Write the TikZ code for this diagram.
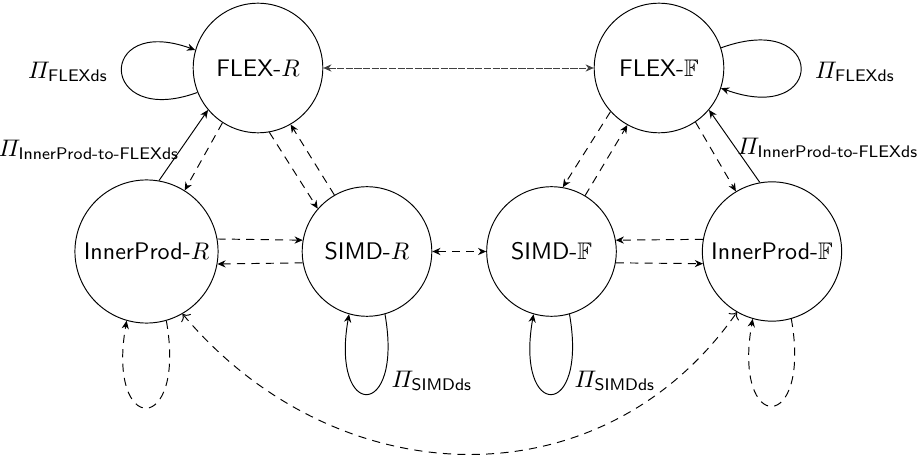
\documentclass[tikz,border=0pt]{standalone}
\usepackage{amsmath,amssymb}
\usetikzlibrary{arrows.meta}
\begin{document}
\begin{tikzpicture}[x=0.4167pt,y=0.4167pt,
  state/.style={circle,draw,minimum size=54pt,font=\sffamily,inner sep=3pt},
  lab/.style={inner sep=0pt},
  dsh/.style={dash pattern=on 3.4pt off 2.6pt},
  arr/.style={-{Stealth[length=3.4pt,width=3pt]}},
  darr/.style={arr,dsh},
  >=To]
\useasboundingbox (0,0) rectangle (923,-459);
\node[state] (flexr) at (258,-68) {FLEX-$R$};
\node[state] (flexf) at (659,-68) {FLEX-$\mathbb{F}$};
\node[state] (innr) at (146.5,-251.5) {InnerProd-$R$};
\node[state] (simdr) at (367,-251.5) {SIMD-$R$};
\node[state] (simdf) at (551.5,-251.5) {SIMD-$\mathbb{F}$};
\node[state] (innf) at (772,-251.5) {InnerProd-$\mathbb{F}$};

\node[lab] (l1) at (68,-72) {$\varPi_{\textsf{FLEXds}}$};
\node[lab] (l2) at (855,-72) {$\varPi_{\textsf{FLEXds}}$};
\node[lab] (l3) at (89,-150) {$\varPi_{\textsf{InnerProd-to-FLEXds}}$};
\node[lab] (l4) at (828,-148) {$\varPi_{\textsf{InnerProd-to-FLEXds}}$};
\node[lab] (l5) at (432,-381) {$\varPi_{\textsf{SIMDds}}$};
\node[lab] (l6) at (615,-381) {$\varPi_{\textsf{SIMDds}}$};

% self loops
\draw[arr] (flexr.202) to[out=200,in=160,distance=44pt] (flexr.164);
\draw[arr] (flexf.18) to[out=20,in=-20,distance=47pt] (flexf.-18);
\draw[arr] (simdr.-74) to[out=-80,in=-100,distance=45pt] (simdr.-106);
\draw[arr] (simdf.-74) to[out=-80,in=-100,distance=45pt] (simdf.-106);
\draw[darr] (innr.-74) to[out=-80,in=-100,distance=49pt] (innr.-106);
\draw[darr] (innf.-74) to[out=-80,in=-100,distance=49pt] (innf.-106);

% FLEX-R connections
\draw[arr] (innr.80) -- (flexr.220);
\draw[darr] (flexr.237) -- (innr.58);
\draw[darr] (flexr.280) -- (simdr.139);
\draw[darr] (simdr.120) -- (flexr.300);

% FLEX-F connections
\draw[darr] (flexf.222) -- (simdf.80);
\draw[darr] (simdf.59) -- (flexf.241);
\draw[darr] (flexf.304) -- (innf.121);
\draw[arr] (innf.100) -- (flexf.320);

% horizontal
\draw[darr] (innr.10) -- (simdr.170);
\draw[darr] (simdr.190) -- (innr.350);
\draw[darr] (innf.170) -- (simdf.10);
\draw[darr] (simdf.350) -- (innf.190);
\draw[{Stealth[length=3.4pt,width=3pt]}-{Stealth[length=3.4pt,width=3pt]},dsh] (simdr) -- (simdf);
\draw[{Stealth[length=3.4pt,width=3pt]}-{Stealth[length=3.4pt,width=3pt]},dash pattern=on 3pt off 0.6pt,black!75] (flexr) -- (flexf);

% long arc
\draw[<->,dsh] (innr.-60) to[out=-50,in=-125,distance=99pt] (innf.-120);
\end{tikzpicture}
\end{document}
